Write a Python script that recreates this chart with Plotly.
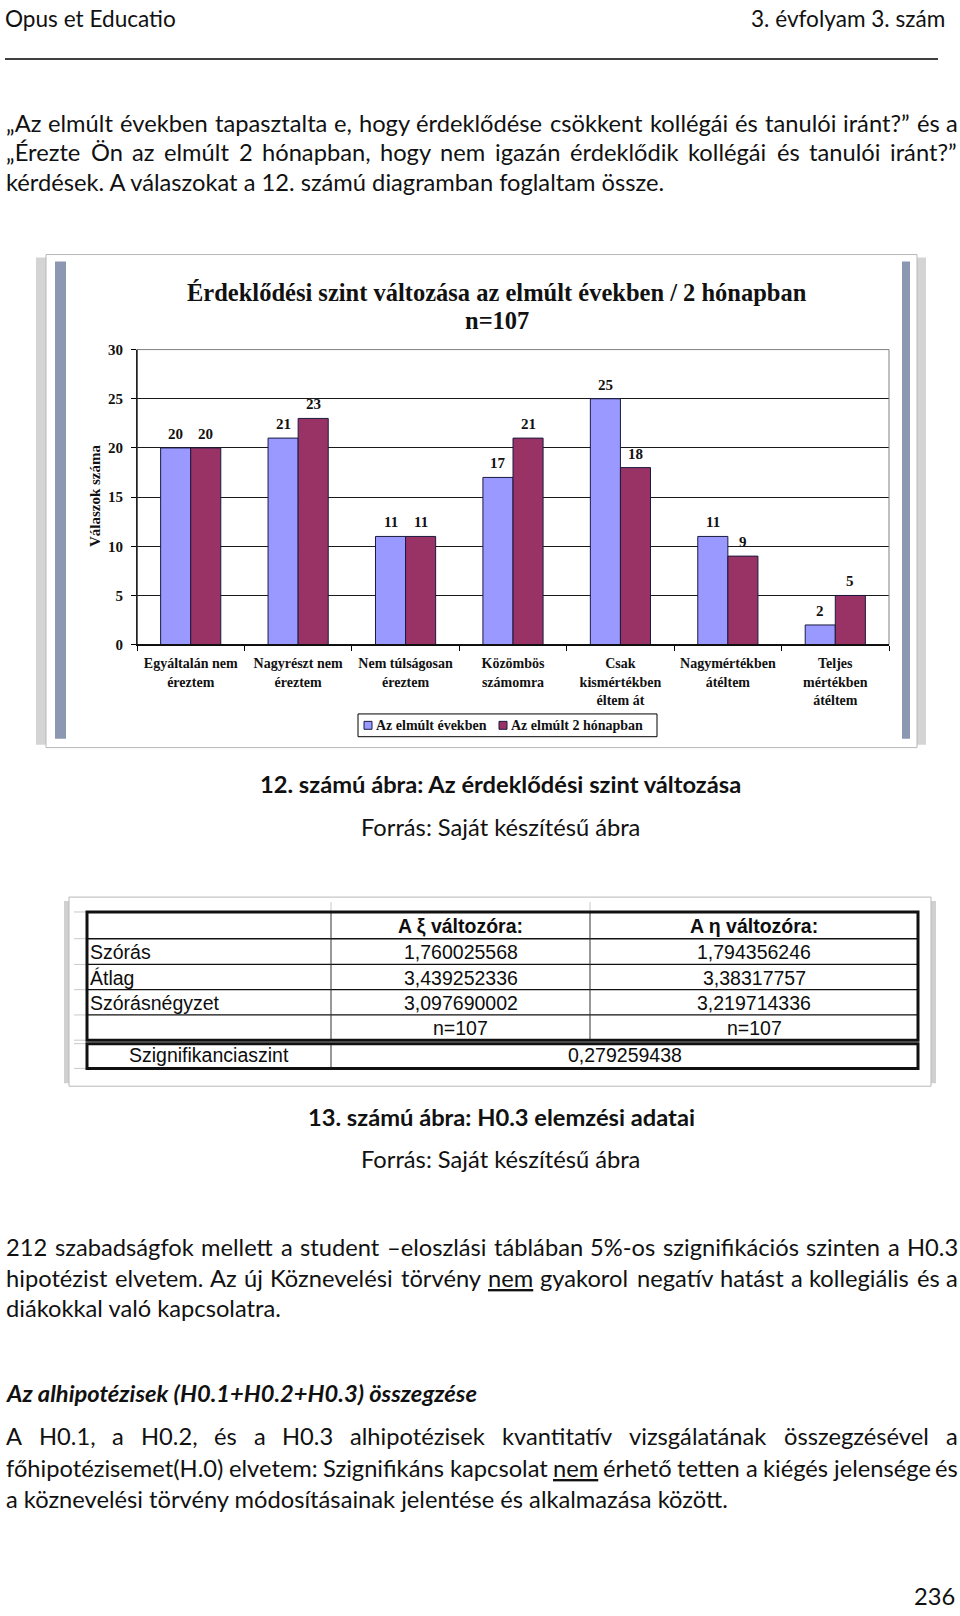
import os
import re
import glob
import struct
import plotly.graph_objects as go

W, H = 960, 1616


def X(p):
    return p / W


def Y(p):
    return 1 - p / H


# ---------------- data ----------------
categories = [
    "Egyáltalán nem<br>éreztem",
    "Nagyrészt nem<br>éreztem",
    "Nem túlságosan<br>éreztem",
    "Közömbös<br>számomra",
    "Csak<br>kismértékben<br>éltem át",
    "Nagymértékben<br>átéltem",
    "Teljes<br>mértékben<br>átéltem",
]
series_names = ["Az elmúlt években", "Az elmúlt 2 hónapban"]
years_values = [20, 21, 11, 17, 25, 11, 2]
months_values = [20, 23, 11, 21, 18, 9, 5]
y_ticks = [0, 5, 10, 15, 20, 25, 30]

table_header = ["", "A ξ változóra:", "A η változóra:"]
table_row_labels = ["Szórás", "Átlag", "Szórásnégyzet", ""]
xi_values = ["1,760025568", "3,439252336", "3,097690002", "n=107"]
eta_values = ["1,794356246", "3,38317757", "3,219714336", "n=107"]
sig_label = "Szignifikanciaszint"
sig_value = "0,279259438"

# ---------------- styles ----------------
BODY = "Lato"
BODY_SIZE = 23.7
HEAD_SIZE = 22.6
SERIF = "Liberation Serif"
TABLE_FONT = "Liberation Sans"
BLUE = "#9999FF"
PLUM = "#993366"
BAR_EDGE = "#1a1a40"
BARGAP = 0.44


# ---------------- font metrics (for justified text) ----------------
def _find_font(fname):
    roots = ["/usr/share/fonts", "/usr/local/share/fonts",
             os.path.expanduser("~/.fonts"), os.path.expanduser("~/.local/share/fonts")]
    for root in roots:
        hits = glob.glob(os.path.join(root, "**", fname), recursive=True)
        if hits:
            return hits[0]
    return None


class Metrics:
    def __init__(self, path):
        self.ok = False
        try:
            data = open(path, "rb").read()
            num = struct.unpack(">H", data[4:6])[0]
            tables = {}
            for i in range(num):
                tag, _cs, off, ln = struct.unpack(">4sIII", data[12 + 16 * i:28 + 16 * i])
                tables[tag.decode("latin1")] = (off, ln)
            ho = tables["head"][0]
            self.upm = struct.unpack(">H", data[ho + 18:ho + 20])[0]
            hh = tables["hhea"][0]
            nh = struct.unpack(">H", data[hh + 34:hh + 36])[0]
            mo = tables["hmtx"][0]
            self.adv = [struct.unpack(">H", data[mo + 4 * i:mo + 4 * i + 2])[0] for i in range(nh)]
            co = tables["cmap"][0]
            nsub = struct.unpack(">H", data[co + 2:co + 4])[0]
            best = None
            for i in range(nsub):
                pid, eid, off = struct.unpack(">HHI", data[co + 4 + 8 * i:co + 12 + 8 * i])
                fmt = struct.unpack(">H", data[co + off:co + off + 2])[0]
                if fmt == 12:
                    best = (12, co + off)
                    break
                if fmt == 4 and best is None:
                    best = (4, co + off)
            self.data = data
            self.fmt, self.o = best
            if self.fmt == 4:
                o = self.o
                segx2 = struct.unpack(">H", data[o + 6:o + 8])[0]
                seg = segx2 // 2
                self.seg = seg
                self.ends = struct.unpack(">%dH" % seg, data[o + 14:o + 14 + segx2])
                self.starts = struct.unpack(">%dH" % seg, data[o + 16 + segx2:o + 16 + 2 * segx2])
                self.deltas = struct.unpack(">%dh" % seg, data[o + 16 + 2 * segx2:o + 16 + 3 * segx2])
                self.ro_pos = o + 16 + 3 * segx2
                self.ros = struct.unpack(">%dH" % seg, data[self.ro_pos:self.ro_pos + segx2])
            else:
                o = self.o
                ng = struct.unpack(">I", data[o + 12:o + 16])[0]
                self.groups = [struct.unpack(">III", data[o + 16 + 12 * i:o + 28 + 12 * i]) for i in range(ng)]
            self.ok = True
        except Exception:
            self.ok = False

    def gid(self, c):
        if self.fmt == 12:
            for s, e, g in self.groups:
                if s <= c <= e:
                    return g + (c - s)
            return 0
        d = self.data
        for i in range(self.seg):
            if self.ends[i] >= c:
                if self.starts[i] > c:
                    return 0
                if self.ros[i] == 0:
                    return (c + self.deltas[i]) & 0xFFFF
                addr = self.ro_pos + 2 * i + self.ros[i] + 2 * (c - self.starts[i])
                g = struct.unpack(">H", d[addr:addr + 2])[0]
                return (g + self.deltas[i]) & 0xFFFF if g else 0
        return 0

    def width(self, s, size):
        if not self.ok:
            return 0.5 * size * len(s)
        tot = 0
        for ch in s:
            g = self.gid(ord(ch))
            tot += self.adv[min(g, len(self.adv) - 1)]
        return tot / self.upm * size


_p = _find_font("Lato-Regular.ttf")
M_REG = Metrics(_p) if _p else None

# ---------------- chart ----------------
PLOT_L, PLOT_R = 137, 889
fig = go.Figure()
for name, vals, col in [(series_names[0], years_values, BLUE),
                        (series_names[1], months_values, PLUM)]:
    fig.add_trace(go.Bar(
        x=categories, y=vals, name=name,
        marker=dict(color=col, line=dict(color=BAR_EDGE, width=1)),
        hoverinfo="skip", showlegend=False,
    ))

fig.update_layout(
    width=W, height=H, margin=dict(l=0, r=0, t=0, b=0),
    paper_bgcolor="white", plot_bgcolor="#C0C0C0",
    barmode="group", bargap=BARGAP, bargroupgap=0,
    showlegend=False,
    xaxis=dict(domain=[X(PLOT_L), X(PLOT_R)], showline=True, linecolor="black", linewidth=1,
               ticks="outside", tickson="boundaries", ticklen=5, tickcolor="black",
               ticklabelstandoff=6,
               tickfont=dict(family=SERIF, size=14, color="#111111", weight="bold"),
               showgrid=False, fixedrange=True),
    yaxis=dict(domain=[Y(643), Y(345)], range=[0, 30], tickvals=y_ticks,
               showgrid=True, gridcolor="#1a1a1a", gridwidth=1, zeroline=False,
               showline=True, linecolor="black", linewidth=1,
               ticks="outside", ticklen=5, tickcolor="black", ticklabelstandoff=5,
               tickfont=dict(family=SERIF, size=15, color="#111111", weight="bold"),
               fixedrange=True),
)

shapes = []
ann = []

# data labels above each bar (positioned through the axes)
half_bar = (PLOT_R - PLOT_L) / len(categories) * (1 - BARGAP) / 4
for vals, shift in [(years_values, -half_bar), (months_values, half_bar)]:
    for c, v in zip(categories, vals):
        ann.append(dict(text=str(v), x=c, y=v, xref="x", yref="y", xshift=shift, yshift=14,
                        xanchor="center", yanchor="middle", showarrow=False,
                        font=dict(family=SERIF, size=15, color="#111111", weight="bold")))


def rect(x0, y0, x1, y1, fill=None, line=None, lw=1, layer="below"):
    shapes.append(dict(type="rect", xref="paper", yref="paper",
                       x0=X(x0), x1=X(x1), y0=Y(y1), y1=Y(y0),
                       fillcolor=fill if fill else "rgba(0,0,0,0)",
                       line=dict(color=line if line else "rgba(0,0,0,0)", width=lw if line else 0),
                       layer=layer))


def hline(x0, x1, y, color="black", lw=1, layer="above"):
    shapes.append(dict(type="line", xref="paper", yref="paper",
                       x0=X(x0), x1=X(x1), y0=Y(y), y1=Y(y),
                       line=dict(color=color, width=lw), layer=layer))


def vline(x, y0, y1, color="black", lw=1, layer="above"):
    shapes.append(dict(type="line", xref="paper", yref="paper",
                       x0=X(x), x1=X(x), y0=Y(y0), y1=Y(y1),
                       line=dict(color=color, width=lw), layer=layer))


def text(t, x, y, anchor="left", size=BODY_SIZE, family=BODY, color="#111111",
         bold=False, italic=False, angle=0):
    ann.append(dict(text=t, x=X(x), y=Y(y), xref="paper", yref="paper",
                    xanchor=anchor, yanchor="middle", showarrow=False, textangle=angle,
                    borderpad=0,
                    font=dict(family=family, size=size, color=color,
                              weight="bold" if bold else "normal",
                              style="italic" if italic else "normal")))


def justified(line, y, L=5, R=957):
    words = line.split(" ")
    plain = [re.sub("<[^>]+>", "", w) for w in words]
    if M_REG is not None and M_REG.ok:
        widths = [M_REG.width(p, BODY_SIZE) for p in plain]
    else:
        widths = [0.49 * BODY_SIZE * len(p) for p in plain]
    gap = (R - L - sum(widths)) / (len(words) - 1)
    xx = L
    for w_, wd in zip(words, widths):
        text(w_, xx, y)
        xx += wd + gap


# ---------------- page header ----------------
text("Opus et Educatio", 4, 10.5, size=HEAD_SIZE)
text("3. évfolyam 3. szám", 946, 10.5, anchor="right", size=HEAD_SIZE)
hline(5, 938, 51.5, lw=1.5)

# ---------------- paragraph 1 ----------------
justified("„Az elmúlt években tapasztalta e, hogy érdeklődése csökkent kollégái és tanulói iránt?” és a", 116)
justified("„Érezte Ön az elmúlt 2 hónapban, hogy nem igazán érdeklődik kollégái és tanulói iránt?”", 145.5, R=956)
text("kérdések. A válaszokat a 12. számú diagramban foglaltam össze.", 5, 176)

# ---------------- chart frame ----------------
rect(36, 252, 50, 744, fill="#d4d4d4")
rect(912, 252, 926, 744, fill="#d4d4d4")
rect(46, 249, 917, 747, fill="white", line="#b8b8b8", lw=1)
rect(55, 256, 66, 738, fill="#8C98B2")
rect(902, 256, 910, 738, fill="#8C98B2")
shapes.append(dict(type="rect", xref="x domain", yref="y domain", x0=0, x1=1, y0=0, y1=1,
                   line=dict(color="#808080", width=1), fillcolor="rgba(0,0,0,0)", layer="above"))
shapes.append(dict(type="line", xref="x domain", yref="y domain", x0=0, x1=0, y0=0, y1=1,
                   line=dict(color="black", width=1), layer="above"))
shapes.append(dict(type="line", xref="x domain", yref="y domain", x0=0, x1=1, y0=0, y1=0,
                   line=dict(color="black", width=1), layer="above"))

text("Érdeklődési szint változása az elmúlt években / 2 hónapban", 497, 287,
     anchor="center", size=24.5, family=SERIF, bold=True)
text("n=107", 497, 316, anchor="center", size=24.5, family=SERIF, bold=True)
text("Válaszok száma", 95, 493, anchor="center", size=15, family=SERIF, bold=True, angle=-90)

# legend box
rect(358, 713, 657, 736, fill="white", line="black", lw=1, layer="above")
rect(364, 720.5, 372, 728.5, fill=BLUE, line=BAR_EDGE, lw=1, layer="above")
text(series_names[0], 374.5, 724.5, size=14, family=SERIF, bold=True)
rect(499, 720.5, 507, 728.5, fill=PLUM, line=BAR_EDGE, lw=1, layer="above")
text(series_names[1], 509.5, 724.5, size=14, family=SERIF, bold=True)

# ---------------- captions ----------------
text("12. számú ábra: Az érdeklődési szint változása", 500, 784, anchor="center", bold=True)
text("Forrás: Saját készítésű ábra", 500, 827, anchor="center")

# ---------------- table ----------------
rect(64, 902, 72, 1086, fill="#d0d0d0")
rect(928, 902, 936, 1086, fill="#d0d0d0")
rect(69, 898, 931, 1089, fill="white", line="#b8b8b8", lw=1)

cx = [87, 331, 590, 918]
ry = [913, 940, 966, 991.5, 1017, 1042.5]
sy = [1046, 1071]

for yy in ry + sy:
    hline(74, 87, yy, color="#c8c8c8", lw=1)
for xx in cx[1:3]:
    vline(xx, 903, 913, color="#c8c8c8", lw=1)

for yy in ry[1:-1]:
    hline(cx[0], cx[3], yy, color="#111111", lw=1.5 if yy == ry[1] else 1.2)
for xx in cx[1:3]:
    vline(xx, ry[0], ry[-1], color="#333333", lw=1)
rect(cx[0], ry[0], cx[3], ry[-1], line="#111111", lw=3, layer="above")
vline(cx[1], sy[0], sy[1], color="#333333", lw=1)
rect(cx[0], sy[0], cx[3], sy[1], line="#111111", lw=3, layer="above")

TS = 19.5
TC = "#0d0d0d"
text(table_header[1], (cx[1] + cx[2]) / 2, (ry[0] + ry[1]) / 2 + 1, anchor="center",
     size=TS, family=TABLE_FONT, bold=True, color=TC)
text(table_header[2], (cx[2] + cx[3]) / 2, (ry[0] + ry[1]) / 2 + 1, anchor="center",
     size=TS, family=TABLE_FONT, bold=True, color=TC)
for i in range(4):
    yc = (ry[i + 1] + ry[i + 2]) / 2 + 0.5
    if table_row_labels[i]:
        text(table_row_labels[i], cx[0] + 2, yc, size=TS, family=TABLE_FONT, color=TC)
    text(xi_values[i], (cx[1] + cx[2]) / 2, yc, anchor="center", size=TS, family=TABLE_FONT, color=TC)
    text(eta_values[i], (cx[2] + cx[3]) / 2, yc, anchor="center", size=TS, family=TABLE_FONT, color=TC)
text(sig_label, (cx[0] + cx[1]) / 2, (sy[0] + sy[1]) / 2 - 1, anchor="center",
     size=TS, family=TABLE_FONT, color=TC)
text(sig_value, (cx[1] + cx[3]) / 2, (sy[0] + sy[1]) / 2 - 1, anchor="center",
     size=TS, family=TABLE_FONT, color=TC)

text("13. számú ábra: H0.3 elemzési adatai", 501, 1120, anchor="center", bold=True)
text("Forrás: Saját készítésű ábra", 500, 1163, anchor="center")

# ---------------- paragraph 2 ----------------
justified("212 szabadságfok mellett a student –eloszlási táblában 5%-os szignifikációs szinten a H0.3", 1251)
justified("hipotézist elvetem. Az új Köznevelési törvény <u>nem</u> gyakorol negatív hatást a kollegiális és a", 1282.5)
text("diákokkal való kapcsolatra.", 5, 1312.5)

text("Az alhipotézisek (H0.1+H0.2+H0.3) összegzése", 5, 1399, bold=True, italic=True)

# ---------------- paragraph 3 ----------------
justified("A H0.1, a H0.2, és a H0.3 alhipotézisek kvantitatív vizsgálatának összegzésével a", 1442.5)
justified("főhipotézisemet(H.0) elvetem: Szignifikáns kapcsolat <u>nem</u> érhető tetten a kiégés jelensége és", 1474.5)
text("a köznevelési törvény módosításainak jelentése és alkalmazása között.", 5, 1505.5)

text("236", 956, 1604, anchor="right")

fig.update_layout(shapes=shapes, annotations=ann)
fig.write_html("out.html")
